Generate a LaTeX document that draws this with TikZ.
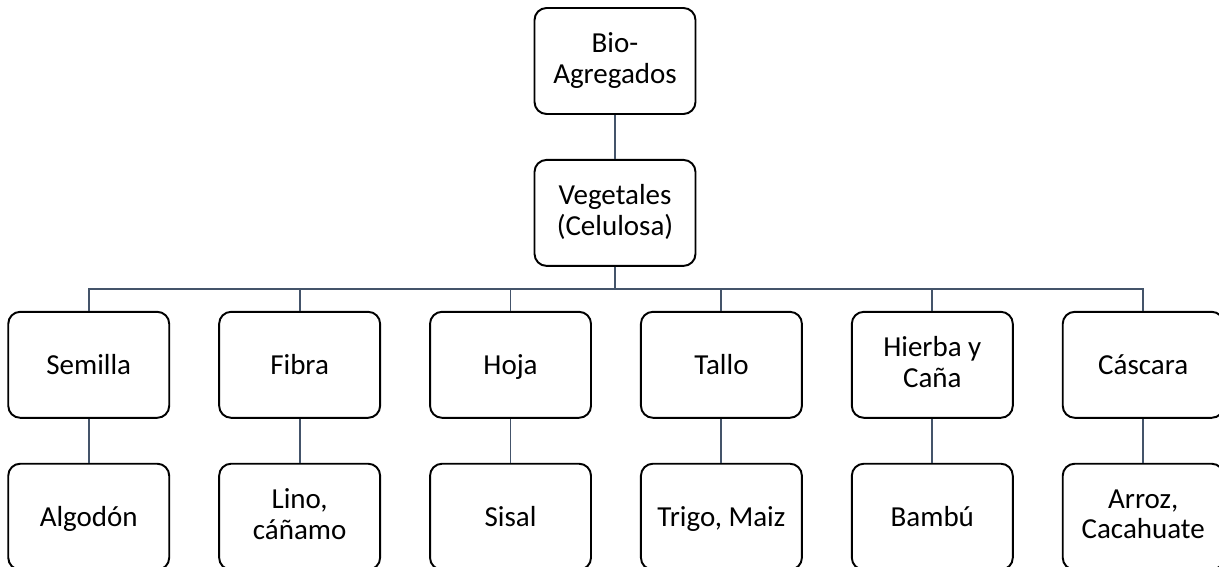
\documentclass[tikz,border=0pt]{standalone}
\usepackage{fontspec}
\setmainfont{Carlito}
\usepackage{xcolor}
\usetikzlibrary{positioning}
\definecolor{linkgray}{HTML}{44546A}

\begin{document}
\begin{tikzpicture}[x=0.02cm, y=0.02cm, node distance=0.88cm and 0.96cm,
    box/.style={draw=black, line width=1.1pt, rounded corners=0.24cm, fill=white,
      minimum width=3.22cm, minimum height=2.12cm, align=center,
      execute at begin node=\rule{0pt}{14pt},
      execute at end node=\rule[-3pt]{0pt}{3pt},
      font=\fontsize{16.5}{17.5}\selectfont},
    link/.style={draw=linkgray, line width=1.1pt}]
  \useasboundingbox (0,0) rectangle (1219,-567);
  \node[box] (bio) at (615,-61) {Bio-\\Agregados};
  \node[box] (veg) [below = of bio] {Vegetales\\(Celulosa)};
  % first row
  \node[box] (hoja)    [below = of veg, xshift=-2.09cm] {Hoja};
  \node[box] (fibra)   [left = of hoja] {Fibra};
  \node[box] (semilla) [left = of fibra] {Semilla};
  \node[box] (tallo)   [right = of hoja] {Tallo};
  \node[box] (hierba)  [right = of tallo] {Hierba y\\Caña};
  \node[box] (cascara) [right = of hierba] {Cáscara};
  % second row
  \node[box] (algodon) [below = of semilla] {Algodón};
  \node[box] (lino)    [below = of fibra] {Lino,\\cáñamo};
  \node[box] (sisal)   [below = of hoja] {Sisal};
  \node[box] (trigo)   [below = of tallo] {Trigo, Maiz};
  \node[box] (bambu)   [below = of hierba] {Bambú};
  \node[box] (arroz)   [below = of cascara] {Arroz,\\Cacahuate};
  \path[link] (bio) -- (veg);
  \foreach \c in {semilla,fibra,hoja,tallo,hierba,cascara}
    \path[link] (veg.south) -- ++(0,-22) -| (\c.north);
  \foreach \a/\b in {semilla/algodon,fibra/lino,hoja/sisal,tallo/trigo,hierba/bambu,cascara/arroz}
    \path[link] (\a) -- (\b);
\end{tikzpicture}
\end{document}
